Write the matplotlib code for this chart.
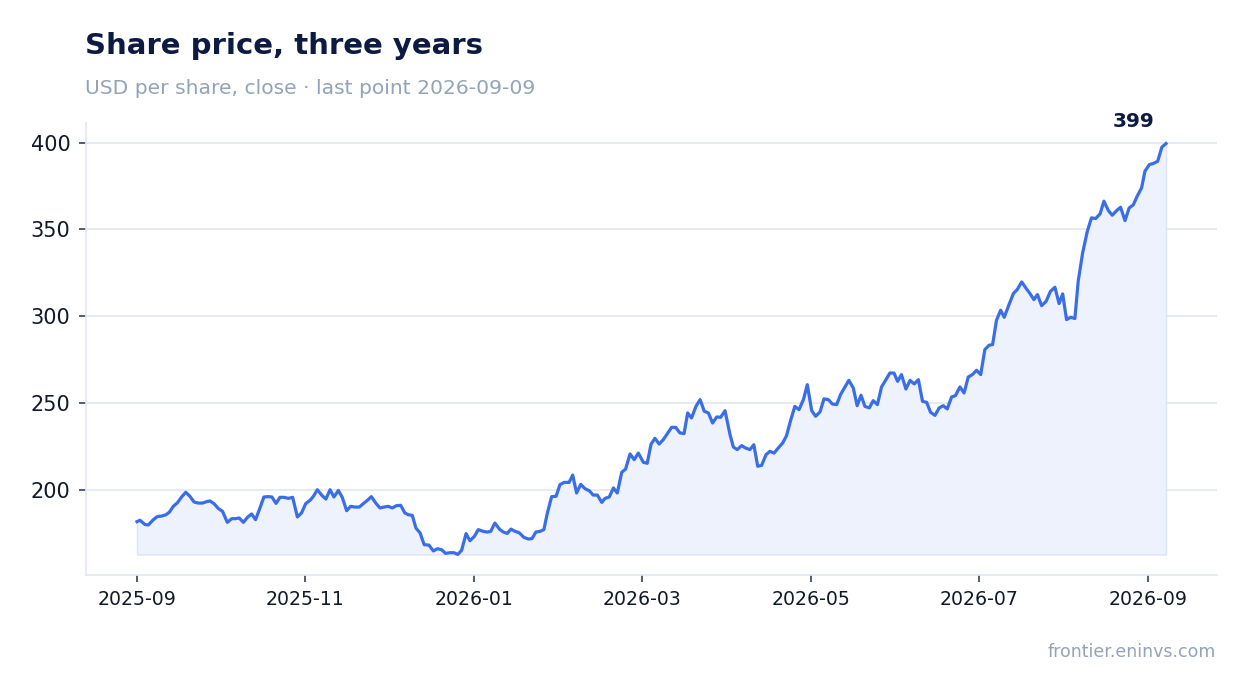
import matplotlib
matplotlib.use("Agg")
import matplotlib.pyplot as plt
import pandas as pd

# days after 2025-09-01 and closing price
start_date = "2025-09-01"
day_offsets = [
    0, 1.1, 2.9, 4.1, 5.9, 7.3, 8.9, 10.5, 11.7, 13.1,
    14.6, 16.1, 17.6, 19.1, 20.6, 22.1, 23.7, 25.1, 26.4, 27.9,
    29.4, 30.9, 32.6, 34.2, 35.5, 36.9, 38.4, 40.0, 41.4, 42.8,
    44.4, 45.8, 47.4, 48.7, 50.2, 51.6, 53.1, 54.6, 56.2, 57.9,
    59.4, 60.9, 62.5, 63.7, 65.1, 66.7, 68.2, 69.7, 71.1, 72.7,
    74.1, 75.7, 77.1, 78.7, 80.3, 81.7, 83.2, 84.6, 86.2, 87.7,
    89.2, 90.7, 92.2, 93.7, 95.2, 96.7, 97.9, 99.4, 100.7, 102.2,
    103.7, 105.4, 107.0, 108.5, 110.0, 111.4, 113.0, 114.4, 115.8, 117.2,
    118.8, 120.2, 121.8, 123.2, 125.0, 126.5, 127.7, 129.2, 131.0, 132.3,
    133.7, 135.0, 136.5, 138.0, 139.7, 141.3, 142.6, 144.0, 145.5, 146.9,
    148.1, 149.7, 151.3, 152.7, 154.2, 156.0, 157.3, 158.7, 160.2, 161.7,
    163.3, 164.7, 166.2, 167.8, 169.0, 170.5, 172.0, 173.4, 175.0, 176.4,
    178.0, 179.5, 181.0, 182.8, 184.2, 185.6, 187.0, 188.5, 190.0, 191.5,
    193.0, 194.5, 196.0, 197.5, 198.8, 200.2, 201.8, 203.3, 204.8, 206.3,
    207.8, 209.3, 210.7, 212.3, 214.1, 215.3, 216.7, 218.3, 219.7, 221.3,
    222.7, 224.1, 225.5, 227.1, 228.5, 230.0, 231.5, 233.1, 234.5, 236.0,
    237.5, 239.0, 240.6, 242.0, 243.6, 245.0, 246.6, 248.0, 249.6, 251.0,
    252.6, 254.0, 255.6, 257.0, 258.6, 260.0, 261.4, 262.8, 264.4, 265.8,
    267.3, 268.8, 270.4, 271.8, 273.3, 274.6, 276.0, 277.6, 279.1, 280.6,
    282.1, 283.6, 285.1, 286.5, 288.1, 289.6, 291.1, 292.5, 294.1, 295.5,
    297.1, 298.6, 300.1, 301.6, 303.1, 304.6, 306.1, 307.6, 308.9, 310.3,
    311.8, 313.1, 314.6, 316.4, 317.8, 319.4, 320.9, 322.4, 323.8, 325.1,
    326.6, 328.2, 329.8, 331.4, 332.9, 334.2, 335.6, 337.1, 338.6, 339.8,
    341.4, 343.1, 344.6, 346.1, 347.7, 349.1, 350.7, 352.1, 353.7, 355.1,
    356.7, 358.2, 359.7, 361.1, 362.7, 363.9, 365.5, 366.9, 368.5, 370.0,
    371.5,
]
prices = [
    181.6, 182.4, 179.9, 179.7, 182.7, 184.5, 184.8, 185.6, 187.1, 190.4,
    192.5, 195.8, 198.5, 196.2, 192.9, 192.3, 192.3, 193.1, 193.5, 191.8,
    189.1, 187.5, 181.2, 183.3, 183.3, 183.7, 181.2, 184.3, 186.0, 182.7,
    189.5, 195.8, 196.0, 195.8, 192.1, 195.6, 195.6, 195.0, 195.6, 184.3,
    186.6, 192.0, 193.9, 196.2, 200.0, 196.8, 194.6, 200.0, 195.8, 199.6,
    195.6, 187.9, 190.4, 190.0, 190.0, 192.0, 193.9, 196.0, 192.3, 189.5,
    190.0, 190.4, 189.5, 190.8, 191.0, 186.6, 185.6, 185.2, 177.9, 175.1,
    168.3, 168.1, 164.7, 166.0, 165.4, 163.3, 163.7, 163.7, 162.7, 165.1,
    174.7, 170.6, 173.1, 177.0, 176.0, 175.6, 176.0, 180.8, 177.0, 175.6,
    174.8, 177.3, 176.0, 175.2, 172.5, 171.6, 171.8, 175.6, 176.0, 177.0,
    186.2, 196.0, 196.2, 202.9, 204.2, 204.2, 208.4, 198.1, 203.1, 200.6,
    199.4, 196.9, 196.9, 192.7, 195.0, 195.8, 201.0, 198.1, 210.0, 211.9,
    220.6, 217.3, 221.1, 215.8, 215.2, 226.3, 229.6, 226.3, 228.8, 232.3,
    235.9, 235.9, 232.7, 232.3, 244.2, 241.3, 248.0, 251.9, 245.2, 244.2,
    238.4, 241.9, 241.7, 245.5, 231.7, 224.6, 223.1, 225.4, 224.0, 223.1,
    225.9, 213.5, 214.0, 220.2, 222.1, 221.1, 224.0, 226.9, 231.1, 240.0,
    248.0, 246.1, 251.9, 260.5, 245.5, 242.3, 244.8, 252.3, 251.9, 249.4,
    249.0, 254.8, 259.2, 263.0, 258.6, 248.4, 254.4, 248.0, 247.1, 251.3,
    249.0, 259.2, 263.4, 267.2, 267.2, 262.4, 266.3, 258.0, 263.0, 260.9,
    263.4, 250.9, 250.3, 244.6, 242.8, 247.1, 248.4, 246.5, 253.4, 254.2,
    259.2, 255.7, 264.9, 266.3, 268.8, 266.3, 280.7, 283.2, 283.6, 297.6,
    303.4, 299.3, 305.7, 313.0, 315.3, 319.7, 316.2, 313.0, 309.5, 312.4,
    306.0, 308.5, 314.3, 316.6, 307.2, 312.8, 298.0, 299.3, 298.6, 320.1,
    336.4, 348.9, 356.6, 356.2, 358.9, 366.2, 360.8, 358.1, 360.8, 362.7,
    355.0, 362.3, 364.1, 369.1, 373.9, 383.5, 387.3, 387.9, 389.2, 397.3,
    399.4,
]

title = "Share price, three years"
subtitle = "USD per share, close · last point 2026-09-09"
source = "frontier.eninvs.com"
y_ticks = [200, 250, 300, 350, 400]
x_tick_labels = ["2025-09", "2025-11", "2026-01", "2026-03", "2026-05",
                 "2026-07", "2026-09"]

dates = pd.Timestamp(start_date) + pd.to_timedelta(day_offsets, unit="D")
# the chart spaces its month ticks evenly across the year
x_ticks = pd.date_range(start_date, "2026-09-01", periods=len(x_tick_labels))

line_color = "#3a6ee8"
grid_color = "#e2e8f0"
navy = "#0d1b42"
muted = "#94a3b8"

fig = plt.figure(figsize=(12.47, 6.93), dpi=100)
ax = fig.add_axes([0.0686, 0.1703, 0.9077, 0.6522])

ax.fill_between(dates, prices, min(prices), facecolor="#eef2fd",
                edgecolor="#dbe4fa", linewidth=1)
ax.plot(dates, prices, color=line_color, linewidth=2.3, solid_joinstyle="round")

ax.annotate(f"{prices[-1]:.0f}", (dates[-1], prices[-1]), xytext=(-8, 9),
            textcoords="offset points", ha="right", va="bottom",
            fontsize=14.5, fontweight="bold", color=navy)

ax.set_yticks(y_ticks)
ax.set_xticks(x_ticks)
ax.set_xticklabels(x_tick_labels)
ax.yaxis.grid(True, color=grid_color, linewidth=1.2)
ax.set_axisbelow(True)

for side in ["top", "right"]:
    ax.spines[side].set_visible(False)
for side in ["left", "bottom"]:
    ax.spines[side].set_color(grid_color)
    ax.spines[side].set_linewidth(1.2)

ax.tick_params(axis="x", labelsize=13.6, colors="#334155", labelcolor="#111827",
               length=5, width=1.2, pad=6)
ax.tick_params(axis="y", labelsize=15, colors="#334155", labelcolor="#111827",
               length=5, width=1.2, pad=6)

fig.text(0.0682, 0.922, title, fontsize=21, fontweight="bold", color=navy,
         va="baseline")
fig.text(0.0682, 0.864, subtitle, fontsize=14.6, color=muted, va="baseline")
fig.text(0.975, 0.052, source, fontsize=12.5, color=muted, ha="right",
         va="baseline")

fig.savefig("out.png", dpi=100)
